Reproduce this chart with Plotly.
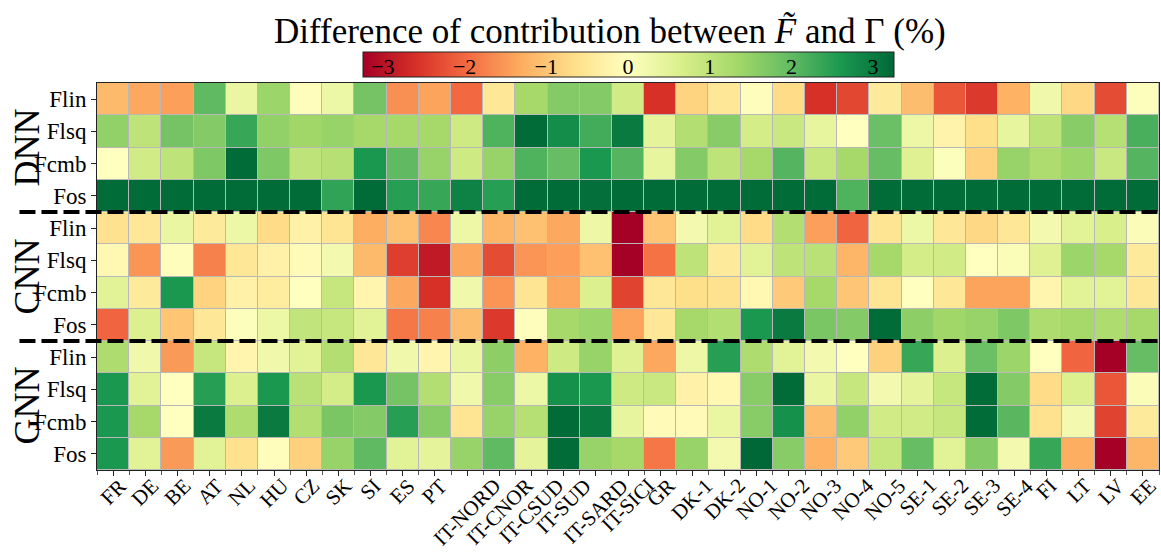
import plotly.graph_objects as go

# Bidding zones (columns)
zones = ["FR", "DE", "BE", "AT", "NL", "HU", "CZ", "SK", "SI", "ES", "PT",
         "IT-NORD", "IT-CNOR", "IT-CSUD", "IT-SUD", "IT-SARD", "IT-SICI", "GR",
         "DK-1", "DK-2", "NO-1", "NO-2", "NO-3", "NO-4", "NO-5",
         "SE-1", "SE-2", "SE-3", "SE-4", "FI", "LT", "LV", "EE"]

features = ["Flin", "Flsq", "Fcmb", "Fos"]
models = ["DNN", "CNN", "GNN"]

# Difference of contribution (%) per model / feature set / zone
dnn_flin = [-1.15, -1.35, -1.45, 2.0, 0.35, 1.4, -0.05, 0.3, 1.8, -1.6, -1.4, -2.0, -0.5, 1.3, 1.65, 1.65, 0.75,
            -2.6, -0.8, -0.5, -0.05, -0.7, -2.6, -2.35, -0.45, -1.1, -2.2, -2.5, -1.25, 0.25, -0.75, -2.3, 0.05]
dnn_flsq = [1.5, 1.0, 1.8, 1.65, 2.35, 1.5, 1.35, 1.45, 1.3, 1.3, 1.3, 0.8, 2.15, 3.2, 2.75, 2.25, 3.0,
            0.45, 1.15, 1.6, 0.7, 0.85, 0.4, 0.0, 1.9, 0.3, -0.25, -0.65, 0.4, 1.0, 1.6, 1.1, 2.2]
dnn_fcmb = [0.0, 0.75, 1.0, 1.7, 3.2, 1.7, 1.0, 1.1, 2.6, 2.0, 1.45, 0.8, 1.45, 2.15, 1.95, 2.6, 2.1,
            0.4, 1.65, 1.0, 1.3, 2.1, 0.9, 1.3, 1.95, 0.55, 0.05, -0.85, 1.45, 1.2, 1.4, 0.85, 2.1]
dnn_fos = [3.2, 3.2, 3.2, 3.2, 3.2, 3.2, 3.2, 2.4, 3.2, 2.5, 2.35, 2.9, 2.5, 3.2, 3.2, 3.15, 3.2,
           3.2, 3.2, 3.2, 3.2, 3.2, 3.2, 2.15, 3.2, 3.2, 3.2, 3.2, 3.2, 3.2, 3.2, 3.2, 3.2]

cnn_flin = [-0.6, -0.5, 0.35, -0.45, 0.3, -0.7, -0.3, -0.55, -1.3, -1.05, -1.7, 0.3, -1.2, -1.05, -1.35, 0.3, -3.25,
            -1.0, 0.2, 0.5, -0.7, 1.15, -1.45, -2.05, -0.55, 0.3, -0.5, -0.75, -0.5, 0.2, 0.5, 0.65, 0.1]
cnn_flsq = [-0.15, -1.55, -0.05, -1.75, -0.5, -0.3, -0.1, 0.2, -1.15, -2.45, -2.9, -1.35, -2.3, -1.55, -1.45, -1.05, -3.25,
            -1.9, 1.0, -0.45, 0.5, 1.0, 1.05, -1.2, 1.3, 0.7, 0.75, 0.0, 0.1, 0.55, 1.4, 1.3, -0.45]
cnn_fcmb = [0.5, -0.45, 2.6, -0.8, -0.3, -0.4, 0.0, 0.9, -0.2, -1.35, -2.6, 0.25, -1.55, -0.55, -1.35, 0.6, -2.4,
            -0.5, -0.65, -0.6, -0.15, -0.95, 1.3, -1.0, -0.55, 0.0, -0.5, -1.4, -1.4, -0.2, 0.5, 0.5, -0.5]
cnn_fos = [-2.05, 0.6, -1.0, -0.5, 0.05, 0.3, 0.95, 0.9, 0.5, -1.85, -1.75, -1.1, -2.5, -0.05, 1.3, 1.4, -1.4,
           -0.5, 1.3, 1.15, 2.6, 3.0, 1.75, 1.65, 3.2, 1.55, 1.35, 1.45, 1.7, 1.2, 1.3, 1.2, 1.3]

gnn_flin = [1.2, 0.25, -1.5, 0.9, -0.2, 0.25, 0.5, 1.15, -0.5, 0.25, -0.2, 0.35, 1.55, -1.25, 0.8, 1.45, 0.55,
            -1.35, 0.3, 2.5, 1.2, 0.5, 0.2, 0.0, -0.85, 2.35, 0.6, 1.9, 1.4, 0.0, -2.05, -3.25, 1.95]
gnn_flsq = [2.6, 0.5, 0.0, 2.5, 0.6, 2.6, 1.05, 0.7, 2.6, 1.8, 1.15, 0.25, 1.6, 0.3, 2.7, 2.6, 0.8,
            0.85, -0.3, -0.15, 1.6, 3.2, 0.35, 0.9, 0.2, 0.45, 0.9, 3.2, 1.65, -0.7, 0.6, -2.2, 0.1]
gnn_fcmb = [2.6, 1.3, 0.0, 3.0, 1.2, 3.0, 1.15, 1.75, 1.65, 2.5, 1.6, -0.55, 1.45, 1.1, 3.2, 3.0, 0.4,
            -0.1, -0.1, 0.35, 1.6, 2.7, -1.1, 1.5, 0.75, 0.75, 0.9, 3.2, 2.05, -0.6, 0.2, -2.4, -0.45]
gnn_fos = [2.6, 0.5, -1.5, 0.5, -0.6, -0.05, -0.85, 1.45, 2.0, 0.5, 0.45, 1.45, 2.0, 0.45, 3.2, 1.45, 1.3,
           -1.85, 1.45, 0.2, 3.25, 1.6, -1.25, -0.95, 0.9, 1.95, 0.5, 1.65, 0.2, 2.35, -1.3, -3.25, -1.2]

z = [dnn_flin, dnn_flsq, dnn_fcmb, dnn_fos,
     cnn_flin, cnn_flsq, cnn_fcmb, cnn_fos,
     gnn_flin, gnn_flsq, gnn_fcmb, gnn_fos]

n_rows = len(z)
n_cols = len(zones)
row_labels = features * len(models)

rdylgn = [[0.0, "rgb(165,0,38)"], [0.1, "rgb(215,48,39)"], [0.2, "rgb(244,109,67)"],
          [0.3, "rgb(253,174,97)"], [0.4, "rgb(254,224,139)"], [0.5, "rgb(255,255,191)"],
          [0.6, "rgb(217,239,139)"], [0.7, "rgb(166,217,106)"], [0.8, "rgb(102,189,99)"],
          [0.9, "rgb(26,152,80)"], [1.0, "rgb(0,104,55)"]]

zlim = 3.25
font_family = "Liberation Serif"

fig = go.Figure(go.Heatmap(
    z=z,
    x=list(range(n_cols)),
    y=list(range(n_rows)),
    colorscale=rdylgn,
    zmin=-zlim, zmax=zlim,
    xgap=1, ygap=1,
    colorbar=dict(
        orientation="h",
        x=0.5, xanchor="center",
        y=1.013, yanchor="bottom",
        xpad=0, ypad=0,
        len=0.5, lenmode="fraction",
        thickness=25,
        outlinewidth=1, outlinecolor="#222",
        tickvals=[-3, -2, -1, 0, 1, 2, 3],
        ticks="",
        ticklabelposition="inside",
        tickfont=dict(family=font_family, size=22, color="black"),
    ),
))

# Dashed separators between model blocks
for k in range(1, len(models)):
    yb = k * len(features) - 0.5
    fig.add_shape(type="line", xref="paper", yref="y",
                  x0=-0.073, x1=1.0, y0=yb, y1=yb,
                  line=dict(color="black", width=4, dash="16px,6px"))

# Model names to the left of each block
for k, m in enumerate(models):
    fig.add_annotation(text=m, xref="paper", yref="y",
                       x=-0.066, y=k * len(features) + 1.5,
                       xanchor="center", yanchor="middle",
                       textangle=-90, showarrow=False,
                       font=dict(family=font_family, size=36, color="black"))

# Zone labels, rotated and centred under each column
for i, name in enumerate(zones):
    fig.add_annotation(text=name, xref="x", yref="paper",
                       x=i, y=0, xanchor="center", yanchor="top",
                       yshift=-1, textangle=-45, showarrow=False,
                       font=dict(family=font_family, size=21, color="black"))

# Chart title
fig.add_annotation(text="Difference of contribution between <i>F̃</i> and Γ (%)",
                   xref="paper", yref="paper", x=0.483, y=1.132,
                   xanchor="center", yanchor="middle", showarrow=False,
                   font=dict(family=font_family, size=35, color="black"))

fig.update_layout(
    width=1161, height=552,
    margin=dict(l=97, r=2, t=83, b=82, autoexpand=False),
    paper_bgcolor="white",
    plot_bgcolor="#b8b8b8",
    xaxis=dict(
        tickmode="array", tickvals=list(range(n_cols)), ticktext=zones,
        showticklabels=False,
        ticks="outside", ticklen=5, tickcolor="#222",
        range=[-0.5, n_cols - 0.5], automargin=False,
        showline=True, linecolor="#222", linewidth=1, mirror=True,
        showgrid=False, zeroline=False,
        minor=dict(tickmode="linear", tick0=-0.5, dtick=1, ticks="outside",
                   ticklen=4, tickcolor="#555"),
    ),
    yaxis=dict(
        tickmode="array", tickvals=list(range(n_rows)), ticktext=row_labels,
        ticks="outside", ticklen=5, tickcolor="#222",
        tickfont=dict(family=font_family, size=23, color="black"),
        range=[n_rows - 0.5, -0.5], automargin=False,
        showline=True, linecolor="#222", linewidth=1, mirror=True,
        showgrid=False, zeroline=False,
    ),
)

fig.write_html("out.html")
